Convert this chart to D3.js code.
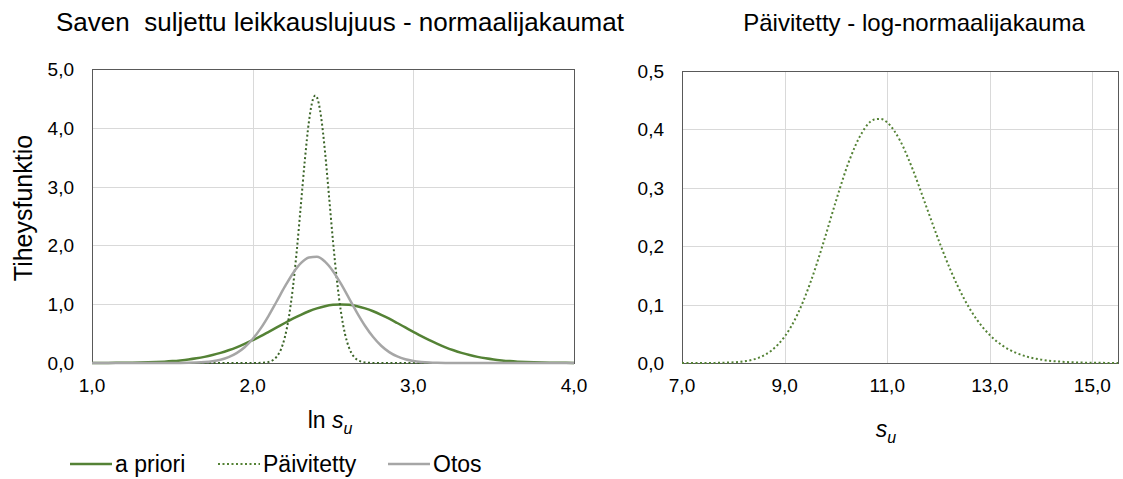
<!DOCTYPE html>
<html>
<head>
<meta charset="utf-8">
<script src="https://cdn.jsdelivr.net/npm/d3@7"></script>
<style>
  body { margin: 0; background: #fff; }
  svg text { font-family: "Liberation Sans", Arial, sans-serif; fill: #000; }
</style>
</head>
<body>
<div id="app"></div>
<script>
// left panel: ln su samples
const lnSu = [1.00,1.05,1.10,1.15,1.20,1.25,1.30,1.35,1.40,1.45,1.50,1.55,1.60,1.65,1.70,1.75,1.80,1.85,1.90,1.95,
  2.00,2.05,2.10,2.15,2.20,2.25,2.30,2.35,2.40,2.45,2.50,2.55,2.60,2.65,2.70,2.75,2.80,2.85,2.90,2.95,
  3.00,3.05,3.10,3.15,3.20,3.25,3.30,3.35,3.40,3.45,3.50,3.55,3.60,3.65,3.70,3.75,3.80,3.85,3.90,3.95,4.00]
const aPriori = [0.0005,0.0009,0.0014,0.0022,0.0034,0.0051,0.0076,0.011,0.016,0.023,0.032,0.044,0.059,0.079,0.104,0.135,0.172,0.216,0.266,0.324,
  0.387,0.456,0.530,0.605,0.680,0.753,0.820,0.880,0.929,0.966,0.989,0.997,0.989,0.966,0.929,0.880,0.820,0.753,0.680,0.605,
  0.530,0.456,0.387,0.324,0.266,0.216,0.172,0.135,0.104,0.079,0.059,0.044,0.032,0.023,0.016,0.011,0.0076,0.0051,0.0034,0.0022,0.0014]
const otos = [0,0,0,0,0,0,0,0,0,0,0.0006,0.0015,0.0034,0.0074,0.015,0.030,0.056,0.100,0.168,0.268,
  0.408,0.589,0.807,1.050,1.297,1.523,1.697,1.796,1.806,1.724,1.562,1.345,1.100,0.854,0.630,0.441,0.293,0.185,0.111,0.063,
  0.034,0.018,0.0086,0.004,0.0017,0.0007,0,0,0,0,0,0,0,0,0,0,0,0,0,0,0]

// updated (narrow) one has its own finer samples
const lnSuUpd = [1.00,1.95,2.000,2.025,2.050,2.075,2.100,2.125,2.150,2.175,2.200,2.225,2.250,2.275,2.300,2.325,2.350,2.375,2.390,2.400,
  2.425,2.450,2.475,2.500,2.525,2.550,2.575,2.600,2.625,2.650,2.675,2.700,2.725,2.750,2.775,2.800,4.00]
const paivitetty = [0,0,0.0002,0.0008,0.0025,0.0072,0.019,0.047,0.108,0.225,0.435,0.775,1.272,1.925,2.687,3.456,4.100,4.483,4.549,4.520,
  4.201,3.600,2.844,2.071,1.391,0.861,0.491,0.259,0.125,0.056,0.023,0.0088,0.003,0.001,0.0003,0,0]

// right panel: su samples, log-normal
const su = [7.0,7.5,8.0,8.25,8.5,8.75,9.0,9.25,9.5,9.75,10.0,10.25,10.5,10.75,10.875,11.0,11.25,11.5,11.75,12.0,
  12.25,12.5,12.75,13.0,13.25,13.5,13.75,14.0,14.5,15.0,15.5]
const logNormal = [0,0.0001,0.0011,0.0034,0.0092,0.0218,0.0451,0.083,0.137,0.204,0.277,0.344,0.393,0.417,0.418,0.412,0.381,0.331,0.271,0.211,
  0.156,0.110,0.074,0.048,0.0297,0.0178,0.0103,0.0058,0.0017,0.0004,0.0001]

const leftXTicks = [1, 2, 3, 4]
const leftYTicks = [0, 1, 2, 3, 4, 5]
const rightXTicks = [7, 9, 11, 13, 15]
const rightYTicks = [0, 0.1, 0.2, 0.3, 0.4, 0.5]

const green = "#548235"
const darkGreen = "#3b6428"
const grey = "#a6a6a6"
const gridColor = "#d9d9d9"

const fmt = d => d3.format(".1f")(d).replace(".", ",")

const svg = d3.select('#app').append('svg')
    .attr('width', 1123)
    .attr('height', 479)

function panel(xDomain, xRange, yDomain, yRange, xTicks, yTicks) {
  const x = d3.scaleLinear().domain(xDomain).range(xRange)
  const y = d3.scaleLinear().domain(yDomain).range(yRange)
  const g = svg.append('g')

  g.selectAll('line.hgrid').data(yTicks).join('line')
    .attr('x1', xRange[0]).attr('x2', xRange[1])
    .attr('y1', d => Math.round(y(d)) + 0.5).attr('y2', d => Math.round(y(d)) + 0.5)
    .attr('stroke', gridColor)
  g.selectAll('line.vgrid').data(xTicks).join('line')
    .attr('x1', d => Math.round(x(d)) + 0.5).attr('x2', d => Math.round(x(d)) + 0.5)
    .attr('y1', yRange[0]).attr('y2', yRange[1])
    .attr('stroke', gridColor)

  // plot area border
  g.append('rect')
    .attr('x', Math.round(xRange[0]) + 0.5).attr('y', Math.round(yRange[1]) + 0.5)
    .attr('width', Math.round(xRange[1] - xRange[0])).attr('height', Math.round(yRange[0] - yRange[1]))
    .attr('fill', 'none').attr('stroke', '#595959')

  g.selectAll('text.ytick').data(yTicks).join('text')
    .attr('x', xRange[0] - 18).attr('y', d => y(d) + 7)
    .attr('text-anchor', 'end').attr('font-size', 19)
    .text(fmt)
  g.selectAll('text.xtick').data(xTicks).join('text')
    .attr('x', d => x(d)).attr('y', yRange[0] + 29)
    .attr('text-anchor', 'middle').attr('font-size', 19)
    .text(fmt)

  return { x, y, g }
}

function drawCurve(p, xs, ys, color, width, dash) {
  const line = d3.line()
    .x((d, i) => p.x(xs[i]))
    .y(d => p.y(d))
    .curve(d3.curveMonotoneX)
  p.g.append('path')
    .attr('d', line(ys))
    .attr('fill', 'none')
    .attr('stroke', color)
    .attr('stroke-width', width)
    .attr('stroke-dasharray', dash || null)
}

const left = panel([1, 4], [92, 574], [0, 5], [363, 69], leftXTicks, leftYTicks)
drawCurve(left, lnSu, aPriori, green, 2.5)
drawCurve(left, lnSuUpd, paivitetty, darkGreen, 2, "2,2.5")
drawCurve(left, lnSu, otos, grey, 2.5)

const right = panel([7, 15.5], [682, 1118], [0, 0.5], [363, 71], rightXTicks, rightYTicks)
drawCurve(right, su, logNormal, green, 2, "2,2.5")

// titles
svg.append('text').attr('x', 340).attr('y', 31).attr('text-anchor', 'middle')
  .attr('font-size', 26).style('white-space', 'pre')
  .text('Saven  suljettu leikkauslujuus - normaalijakaumat')
svg.append('text').attr('x', 914).attr('y', 31).attr('text-anchor', 'middle')
  .attr('font-size', 24).text('Päivitetty - log-normaalijakauma')

svg.append('text')
  .attr('transform', 'translate(32,208) rotate(-90)')
  .attr('text-anchor', 'middle').attr('font-size', 25)
  .text('Tiheysfunktio')

const xl = svg.append('text').attr('x', 330).attr('y', 428).attr('text-anchor', 'middle').attr('font-size', 23)
xl.append('tspan').text('ln ')
xl.append('tspan').attr('font-style', 'italic').text('s')
xl.append('tspan').attr('font-style', 'italic').attr('font-size', 16).attr('dy', 6).text('u')

const xr = svg.append('text').attr('x', 886).attr('y', 437).attr('text-anchor', 'middle').attr('font-size', 23)
xr.append('tspan').attr('font-style', 'italic').text('s')
xr.append('tspan').attr('font-style', 'italic').attr('font-size', 16).attr('dy', 6).text('u')

// legend
const legend = [
  { name: 'a priori', color: green, width: 2.5, dash: null, x: 70 },
  { name: 'Päivitetty', color: green, width: 2, dash: "2,2.5", x: 218 },
  { name: 'Otos', color: grey, width: 2.5, dash: null, x: 388 }
]
const lg = svg.append('g').selectAll('g').data(legend).join('g')
lg.append('line')
  .attr('x1', d => d.x).attr('x2', d => d.x + 42)
  .attr('y1', 464).attr('y2', 464)
  .attr('stroke', d => d.color).attr('stroke-width', d => d.width)
  .attr('stroke-dasharray', d => d.dash)
lg.append('text')
  .attr('x', d => d.x + 45).attr('y', 472)
  .attr('font-size', 23)
  .text(d => d.name)
</script>
</body>
</html>
